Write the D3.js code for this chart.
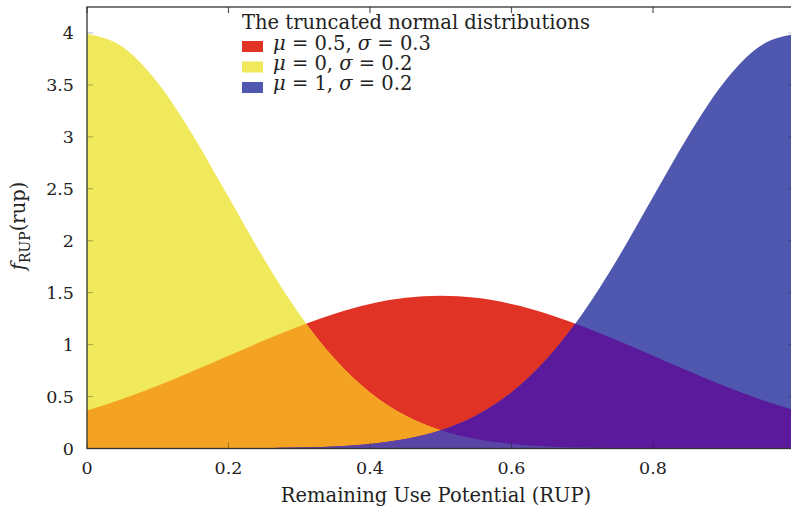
<!DOCTYPE html>
<meta charset="utf-8">
<html>
<script src="https://d3js.org/d3.v7.min.js"></script>
<style>
  body { margin: 0; background: #fff; }
  text { font-family: "DejaVu Serif", serif; fill: #222; }
</style>
<body>
<div id="my_dataviz"></div>
<script>

    const rup = [0, 0.05, 0.1, 0.15, 0.2, 0.25, 0.3, 0.35, 0.4, 0.45, 0.5,
                 0.55, 0.6, 0.65, 0.7, 0.75, 0.8, 0.85, 0.9, 0.95, 1]
    const densMid = [0.367, 0.477, 0.605, 0.745, 0.892, 1.039, 1.177, 1.298, 1.391, 1.450, 1.470,
                     1.450, 1.391, 1.298, 1.177, 1.039, 0.892, 0.745, 0.605, 0.477, 0.367]
    const densLow = [3.989, 3.867, 3.521, 3.011, 2.420, 1.827, 1.295, 0.863, 0.540, 0.317, 0.175,
                     0.091, 0.044, 0.020, 0.009, 0.0035, 0.0013, 0.0005, 0.0002, 0.0001, 0]
    const densHigh = [0, 0.0001, 0.0002, 0.0005, 0.0013, 0.0035, 0.009, 0.020, 0.044, 0.091, 0.175,
                      0.317, 0.540, 0.863, 1.295, 1.827, 2.420, 3.011, 3.521, 3.867, 3.989]

    const seriesParams = [["0.5", "0.3"], ["0", "0.2"], ["1", "0.2"]]
    const xTicks = [0, 0.2, 0.4, 0.6, 0.8, 1]
    const yTicks = [0, 0.5, 1, 1.5, 2, 2.5, 3, 3.5, 4]

    const colRed = "#e03325", colYellow = "#f0e95c", colBlue = "#4f57ae"
    const colOrange = "#f4a221", colPurple = "#5b1a9c", colViolet = "#5a45a6"

    const width = 791, height = 510
    const fs = "19.5px", fsTick = "17.5px"
    const svg = d3.select("#my_dataviz")
      .append("svg")
        .attr("width", width)
        .attr("height", height)

    // the plot runs a little past the right edge of the window, like the original
    const x = d3.scaleLinear().domain([0, 1]).range([87, 794.5])
    const y = d3.scaleLinear().domain([0, 4.25]).range([448.5, 7])

    const defs = svg.append("defs")
    defs.append("clipPath").attr("id", "plotArea")
      .append("rect")
      .attr("x", x(0)).attr("y", y(4.25))
      .attr("width", x(1) - x(0)).attr("height", y(0) - y(4.25))

    const area = function(vals) {
      return d3.area()
        .x((d, i) => x(rup[i]))
        .y0(y(0))
        .y1(d => y(d))
        .curve(d3.curveMonotoneX)(vals)
    }

    // clip paths so the overlaps get their own colour
    defs.append("clipPath").attr("id", "clipLow").append("path").attr("d", area(densLow))
    defs.append("clipPath").attr("id", "clipHigh").append("path").attr("d", area(densHigh))

    const g = svg.append("g").attr("clip-path", "url(#plotArea)")

    g.append("path").attr("d", area(densMid)).attr("fill", colRed)
    g.append("path").attr("d", area(densLow)).attr("fill", colYellow)
    g.append("path").attr("d", area(densHigh)).attr("fill", colBlue)
    g.append("path").attr("d", area(densMid)).attr("fill", colOrange).attr("clip-path", "url(#clipLow)")
    g.append("path").attr("d", area(densMid)).attr("fill", colPurple).attr("clip-path", "url(#clipHigh)")
    g.append("path").attr("d", area(densLow)).attr("fill", colViolet).attr("clip-path", "url(#clipHigh)")

    // ticks (inside the box, on all four sides)
    const tickCol = "rgba(0,0,0,0.3)"
    yTicks.forEach(function(t) {
      svg.append("line").attr("x1", x(0)).attr("x2", x(0) + 6)
        .attr("y1", y(t)).attr("y2", y(t)).attr("stroke", tickCol).attr("stroke-width", 1)
      svg.append("line").attr("x1", x(1)).attr("x2", x(1) - 6)
        .attr("y1", y(t)).attr("y2", y(t)).attr("stroke", tickCol).attr("stroke-width", 1)
      svg.append("text").attr("x", 74).attr("y", y(t) + 6.5)
        .attr("text-anchor", "end").style("font-size", fsTick).text(t)
    })
    xTicks.forEach(function(t) {
      svg.append("line").attr("x1", x(t)).attr("x2", x(t))
        .attr("y1", y(4.25)).attr("y2", y(4.25) + 6).attr("stroke", "#555").attr("stroke-width", 1.2)
      svg.append("line").attr("x1", x(t)).attr("x2", x(t))
        .attr("y1", y(0)).attr("y2", y(0) - 6).attr("stroke", tickCol).attr("stroke-width", 1)
      svg.append("text").attr("x", x(t)).attr("y", 474)
        .attr("text-anchor", "middle").style("font-size", fsTick).text(t)
    })

    // frame
    svg.append("rect")
      .attr("x", x(0)).attr("y", y(4.25))
      .attr("width", x(1) - x(0)).attr("height", y(0) - y(4.25))
      .attr("fill", "none").attr("stroke", "#333").attr("stroke-width", 1.3)

    // axis labels
    svg.append("text").attr("x", 436).attr("y", 502)
      .attr("text-anchor", "middle").style("font-size", fs)
      .text("Remaining Use Potential (RUP)")

    const yl = svg.append("text")
      .attr("transform", "translate(25,226) rotate(-90)")
      .attr("text-anchor", "middle").style("font-size", fs)
    yl.append("tspan").style("font-style", "italic").text("f")
    yl.append("tspan").attr("dy", 5).style("font-size", "14px").text("RUP")
    yl.append("tspan").attr("dy", -5).text("(rup)")

    // legend
    const leg = svg.append("g")
    leg.append("text").attr("x", 242).attr("y", 29).style("font-size", fs)
      .text("The truncated normal distributions")
    const legCols = [colRed, colYellow, colBlue]
    seriesParams.forEach(function(p, i) {
      leg.append("rect").attr("x", 242).attr("y", 41 + i * 20.5)
        .attr("width", 21).attr("height", 11).attr("fill", legCols[i])
      const t = leg.append("text").attr("x", 273).attr("y", 50 + i * 20)
        .style("font-size", fs)
      t.append("tspan").style("font-style", "italic").text("\u03bc")
      t.append("tspan").text(" = " + p[0] + ", ")
      t.append("tspan").style("font-style", "italic").text("\u03c3")
      t.append("tspan").text(" = " + p[1])
    })

</script>
</body>
</html>
